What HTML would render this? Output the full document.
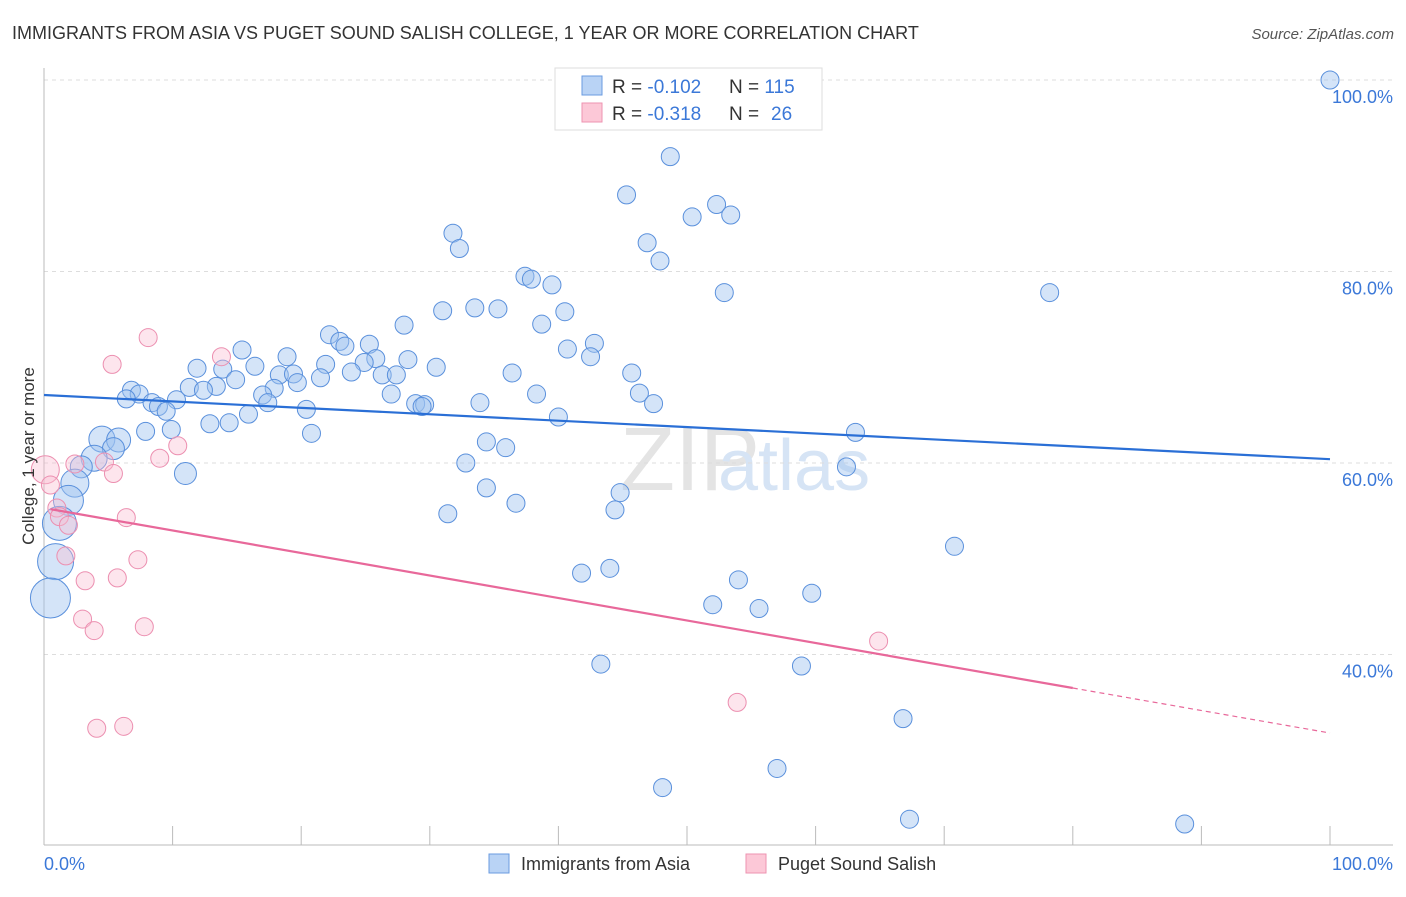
<!DOCTYPE html>
<html><head><meta charset="utf-8">
<style>
body{margin:0;background:#fff;font-family:"Liberation Sans",sans-serif;}
svg text{font-family:"Liberation Sans",sans-serif;}
</style></head>
<body>
<svg id="chart" width="1406" height="892" viewBox="0 0 1406 892" xmlns="http://www.w3.org/2000/svg">
<text x="12" y="39" font-size="18" fill="#333">IMMIGRANTS FROM ASIA VS PUGET SOUND SALISH COLLEGE, 1 YEAR OR MORE CORRELATION CHART</text>
<text x="1394" y="39" font-size="15" fill="#555" text-anchor="end" font-style="italic">Source: ZipAtlas.com</text>
<text x="620" y="490" font-size="90" fill="#e4e4e4" font-family="Liberation Serif">ZIP</text>
<text x="718" y="490" font-size="72" fill="#d6e4f5">atlas</text>
<g id="grid"></g>
<g id="axes"></g>
<g id="points"></g>
<g id="lines"></g>
<text transform="translate(34,456) rotate(-90)" font-size="17" fill="#333" text-anchor="middle">College, 1 year or more</text>
<text x="44" y="870" font-size="18" fill="#3b78d8">0.0%</text>
<text x="1393" y="870" font-size="18" fill="#3b78d8" text-anchor="end">100.0%</text>
<g>
<rect x="555" y="68" width="267" height="62" fill="#fff" stroke="#ddd"/>
<rect x="582" y="76" width="20" height="19" fill="#b9d3f5" stroke="#6a9be0"/>
<rect x="582" y="103" width="20" height="19" fill="#fcc8d7" stroke="#ee93b1"/>
<text x="612" y="93" font-size="19" fill="#333">R = <tspan fill="#3b78d8">-0.102</tspan><tspan x="729">N = </tspan><tspan fill="#3b78d8">115</tspan></text>
<text x="612" y="120" font-size="19" fill="#333">R = <tspan fill="#3b78d8">-0.318</tspan><tspan x="729">N = </tspan><tspan fill="#3b78d8" x="771">26</tspan></text>
</g>
<g>
<rect x="489" y="854" width="20" height="19" fill="#b9d3f5" stroke="#6a9be0"/>
<text x="521" y="870" font-size="18" fill="#333">Immigrants from Asia</text>
<rect x="746" y="854" width="20" height="19" fill="#fcc8d7" stroke="#ee93b1"/>
<text x="778" y="870" font-size="18" fill="#333">Puget Sound Salish</text>
</g>
</svg>
<script>
const yTicks=[40,60,80,100];
const yTickLabels=["40.0%","60.0%","80.0%","100.0%"];
const xTicks=[0,10,20,30,40,50,60,70,80,90,100];
const blueX=[100,48.7,45.3,52.3,50.4,53.4,31.8,32.3,46.9,47.9,37.4,37.9,39.5,52.9,78.2,31.0,33.5,35.3,40.5,38.7,28.0,22.2,23.0,23.4,25.3,15.4,42.8,40.7,42.5,18.9,25.8,28.3,24.9,21.9,11.9,16.4,13.9,30.5,23.9,26.3,27.4,36.4,18.3,19.4,45.7,21.5,14.9,19.7,17.9,11.3,13.4,12.4,6.8,7.4,6.4,17.0,27.0,38.3,46.3,10.3,8.4,8.9,9.5,17.4,28.9,29.6,29.4,33.9,47.4,20.4,15.9,40.0,12.9,14.4,7.9,9.9,20.8,63.1,34.4,35.9,4.5,5.8,5.4,3.9,11.0,32.8,62.4,2.9,2.4,34.4,1.9,44.8,31.4,36.7,44.4,1.2,70.8,0.9,41.8,44.0,54.0,59.7,52.0,55.6,0.5,43.3,58.9,66.8,57.0,48.1,67.3,88.7];
const blueY=[100,92.0,88.0,87.0,85.7,85.9,84.0,82.4,83.0,81.1,79.5,79.2,78.6,77.8,77.8,75.9,76.2,76.1,75.8,74.5,74.4,73.4,72.7,72.2,72.4,71.8,72.5,71.9,71.1,71.1,70.9,70.8,70.5,70.3,69.9,70.1,69.8,70.0,69.5,69.2,69.2,69.4,69.2,69.3,69.4,68.9,68.7,68.4,67.8,67.9,68.0,67.6,67.6,67.2,66.7,67.1,67.2,67.2,67.3,66.6,66.3,65.9,65.4,66.3,66.2,66.1,65.9,66.3,66.2,65.6,65.1,64.8,64.1,64.2,63.3,63.5,63.1,63.2,62.2,61.6,62.5,62.4,61.5,60.5,58.9,60.0,59.6,59.6,57.9,57.4,56.1,56.9,54.7,55.8,55.1,53.7,51.3,49.7,48.5,49.0,47.8,46.4,45.2,44.8,45.9,39.0,38.8,33.3,28.1,26.1,22.8,22.3];
const blueR=[9,9,9,9,9,9,9,9,9,9,9,9,9,9,9,9,9,9,9,9,9,9,9,9,9,9,9,9,9,9,9,9,9,9,9,9,9,9,9,9,9,9,9,9,9,9,9,9,9,9,9,9,9,9,9,9,9,9,9,9,9,9,9,9,9,9,9,9,9,9,9,9,9,9,9,9,9,9,9,9,13,12,11,13,11,9,9,11,14,9,15,9,9,9,9,17,9,18,9,9,9,9,9,9,20,9,9,9,9,9,9,9];
const pinkX=[0.1,0.5,2.4,8.1,5.3,13.8,4.7,9.0,10.4,5.4,1.0,1.2,1.9,6.4,1.7,7.3,3.2,5.7,3.0,3.9,7.8,4.1,6.2,64.9,53.9];
const pinkY=[59.3,57.7,59.9,73.1,70.3,71.1,60.1,60.5,61.8,58.9,55.3,54.4,53.5,54.3,50.3,49.9,47.7,48.0,43.7,42.5,42.9,32.3,32.5,41.4,35.0];
const pinkR=[14,9,9,9,9,9,9,9,9,9,9,9,9,9,9,9,9,9,9,9,9,9,9,9,9];
const blueTrend=[67.1,60.4];
const pinkTrend=[55.3,31.8];
const pinkSolidEnd=80;

const NS="http://www.w3.org/2000/svg";
const X0=44,X1=1330,Y100=80,PX_PER=9.575;
function sx(v){return X0+(X1-X0)*v/100;}
function sy(v){return Y100+(100-v)*PX_PER;}
function mk(tag,attrs,parent){const e=document.createElementNS(NS,tag);for(const k in attrs)e.setAttribute(k,attrs[k]);parent.appendChild(e);return e;}
const grid=document.getElementById('grid'),axes=document.getElementById('axes'),pts=document.getElementById('points'),lines=document.getElementById('lines');
yTicks.forEach((t,i)=>{
  const l=mk('line',{x1:44,x2:1393,y1:sy(t),y2:sy(t),stroke:'#ddd','stroke-dasharray':'4,4'},grid);
  
  
  const tx=mk('text',{x:1393,y:sy(t)+23,'font-size':18,fill:'#3b78d8','text-anchor':'end'},grid);
  tx.textContent=yTickLabels[i];
  
  
});
const ax=mk('line',{x1:44,x2:44,y1:68,y2:845,stroke:'#bbb'},axes);


const bx=mk('line',{x1:44,x2:1393,y1:845,y2:845,stroke:'#bbb'},axes);


xTicks.forEach(t=>{
  const l=mk('line',{x1:sx(t),x2:sx(t),y1:826,y2:845,stroke:'#bbb'},axes);
  
  
});
blueX.forEach((x,i)=>{
  const c=mk('circle',{cx:sx(x),cy:sy(blueY[i]),r:blueR[i],fill:'rgba(160,196,240,0.45)',stroke:'#5a90dc','stroke-width':1},pts);
  
  
});
pinkX.forEach((x,i)=>{
  const c=mk('circle',{cx:sx(x),cy:sy(pinkY[i]),r:pinkR[i],fill:'rgba(250,190,210,0.4)',stroke:'#ec8fb0','stroke-width':1},pts);
  
  
});
const bl=mk('line',{x1:sx(0),y1:sy(blueTrend[0]),x2:sx(100),y2:sy(blueTrend[1]),stroke:'#2a6fd6','stroke-width':2.2},lines);


const pv=x=>pinkTrend[0]+(pinkTrend[1]-pinkTrend[0])*x/100;
const pl=mk('line',{x1:sx(0.5),y1:sy(pv(0.5)),x2:sx(pinkSolidEnd),y2:sy(pv(pinkSolidEnd)),stroke:'#e8689a','stroke-width':2.2},lines);


const pd=mk('line',{x1:sx(pinkSolidEnd),y1:sy(pv(pinkSolidEnd)),x2:sx(100),y2:sy(pv(100)),stroke:'#e8689a','stroke-width':1.2,'stroke-dasharray':'5,4'},lines);


</script>
</body></html>
